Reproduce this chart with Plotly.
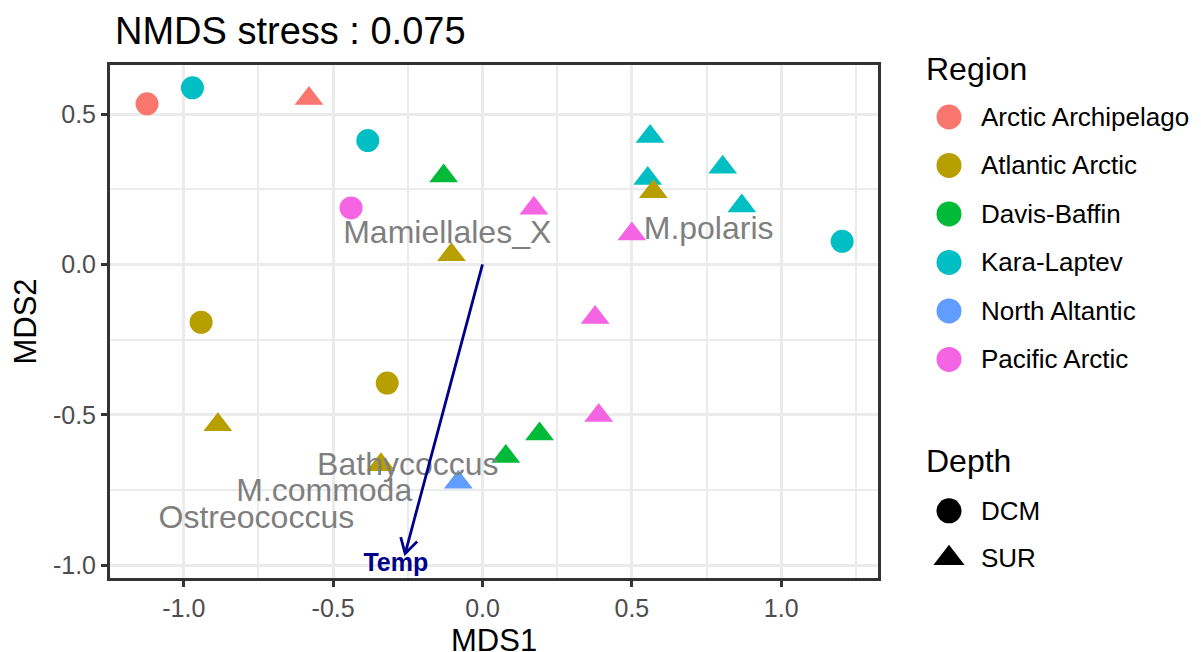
import numpy as np
import plotly.graph_objects as go

# ---------------- data ----------------
title_text = "NMDS stress : 0.075"
regions = ["Arctic Archipelago", "Atlantic Arctic", "Davis-Baffin",
           "Kara-Laptev", "North Altantic", "Pacific Arctic"]
region_colors = ["#F8766D", "#B79F00", "#00BA38", "#00BFC4", "#619CFF", "#F564E3"]
depths = ["DCM", "SUR"]
depth_symbols = ["circle", "triangle-up"]

sample_region = ["Arctic Archipelago", "Arctic Archipelago",
                 "Kara-Laptev", "Kara-Laptev", "Kara-Laptev", "Kara-Laptev",
                 "Kara-Laptev", "Kara-Laptev", "Kara-Laptev",
                 "Davis-Baffin", "Davis-Baffin", "Davis-Baffin",
                 "Pacific Arctic", "Pacific Arctic", "Pacific Arctic",
                 "Pacific Arctic", "Pacific Arctic",
                 "Atlantic Arctic", "Atlantic Arctic", "Atlantic Arctic",
                 "Atlantic Arctic", "Atlantic Arctic", "Atlantic Arctic",
                 "North Altantic"]
sample_depth = ["DCM", "SUR",
                "DCM", "DCM", "SUR", "SUR", "SUR", "SUR", "DCM",
                "SUR", "SUR", "SUR",
                "DCM", "SUR", "SUR", "SUR", "SUR",
                "SUR", "DCM", "DCM", "SUR", "SUR", "SUR",
                "SUR"]
mds1 = [-1.123, -0.581,
        -0.971, -0.384, 0.561, 0.553, 0.804, 0.868, 1.204,
        -0.130, 0.078, 0.191,
        -0.440, 0.172, 0.500, 0.377, 0.389,
        -0.104, -0.942, -0.319, -0.886, -0.340, 0.572,
        -0.081]
mds2 = [0.534, 0.552,
        0.587, 0.412, 0.425, 0.286, 0.323, 0.194, 0.077,
        0.294, -0.638, -0.563,
        0.188, 0.187, 0.101, -0.176, -0.502,
        0.032, -0.192, -0.394, -0.533, -0.666, 0.242,
        -0.724]

species = ["Mamiellales_X", "M.polaris", "Bathycoccus", "M.commoda", "Ostreococcus"]
species_x = [-0.118, 0.757, -0.250, -0.530, -0.757]
species_y = [0.097, 0.110, -0.674, -0.761, -0.850]

env_name = "Temp"
env_vec = [-0.259, -0.961]
env_label_pos = [-0.290, -0.997]

x_tickvals = [-1.0, -0.5, 0.0, 0.5, 1.0]
x_ticktext = ["-1.0", "-0.5", "0.0", "0.5", "1.0"]
y_tickvals = [-1.0, -0.5, 0.0, 0.5]
y_ticktext = ["-1.0", "-0.5", "0.0", "0.5"]
x_title = "MDS1"
y_title = "MDS2"

# ---------------- layout constants ----------------
OFF = 8  # page body margin of the html page
W, H = 1201 - OFF, 652 - OFF
ML = 110 - OFF
MT = 64.5 - OFF
PLOT_BOTTOM = 577.7 - OFF
MB = H - PLOT_BOTTOM
PLOT_RIGHT = 877.7 - OFF
paper_w = W - ML
paper_h = H - MT - MB
x_range = [-1.247, 1.323]
y_range = [-1.042, 0.663]
x_dom_end = (PLOT_RIGHT - ML) / paper_w
px_x = (PLOT_RIGHT - ML) / (x_range[1] - x_range[0])
px_y = paper_h / (y_range[1] - y_range[0])

FONT = "Liberation Sans, Arial, sans-serif"
color_of = dict(zip(regions, region_colors))
symbol_of = dict(zip(depths, depth_symbols))
size_of = {"DCM": 23, "SUR": 25}

fig = go.Figure()

# sample points
fig.add_trace(go.Scatter(
    x=mds1, y=mds2, mode="markers", showlegend=False,
    marker=dict(color=[color_of[r] for r in sample_region],
                symbol=[symbol_of[d] for d in sample_depth],
                size=[size_of[d] for d in sample_depth],
                opacity=1, line=dict(width=0)),
    hovertext=[f"{r} ({d})" for r, d in zip(sample_region, sample_depth)],
    hoverinfo="text+x+y"))

# species labels
fig.add_trace(go.Scatter(
    x=species_x, y=species_y, mode="text", text=species, showlegend=False,
    textposition="middle center",
    textfont=dict(family=FONT, size=32, color="#7F7F7F")))

# environmental arrow (head derived from the vector)
tx, ty = env_vec
ang = np.arctan2(ty * px_y, tx * px_x)
head_len = 17
arms = []
for s in (+1, -1):
    a = ang + np.pi + s * np.pi / 6
    arms.append((tx + head_len * np.cos(a) / px_x, ty + head_len * np.sin(a) / px_y))
fig.add_trace(go.Scatter(
    x=[0, tx, None, arms[0][0], tx, arms[1][0]],
    y=[0, ty, None, arms[0][1], ty, arms[1][1]],
    mode="lines", line=dict(color="#00008B", width=2.8), showlegend=False,
    hoverinfo="skip"))
fig.add_trace(go.Scatter(
    x=[env_label_pos[0]], y=[env_label_pos[1]], mode="text", text=[f"<b>{env_name}</b>"],
    textposition="middle center", showlegend=False, cliponaxis=False,
    textfont=dict(family=FONT, size=25, color="#00008B")))

# ---------------- manual legend (separate axes, pixel units) ----------------
LEG_X0 = 900 - OFF
leg_marker_x = 949 - OFF
leg_text_x = 978.5 - OFF
region_y0, region_step = 116.5 - OFF, 48.5
region_title_y = 68 - OFF
depth_title_y = 461 - OFF
depth_y0, depth_step = 510.5 - OFF, 47.5

fig.add_trace(go.Scatter(
    x=[leg_marker_x] * len(regions),
    y=[region_y0 + i * region_step for i in range(len(regions))],
    mode="markers", xaxis="x2", yaxis="y2", showlegend=False, hoverinfo="skip",
    marker=dict(color=region_colors, symbol="circle", size=25, opacity=1, line=dict(width=0))))
fig.add_trace(go.Scatter(
    x=[leg_marker_x] * len(depths),
    y=[depth_y0 + i * depth_step for i in range(len(depths))],
    mode="markers", xaxis="x2", yaxis="y2", showlegend=False, hoverinfo="skip",
    marker=dict(color="black", symbol=depth_symbols, size=[25, 27], opacity=1,
                line=dict(width=0))))

annotations = []
annotations.append(dict(text="Region", xref="x2", yref="y2", x=LEG_X0 + 24, y=region_title_y,
                        xanchor="left", yanchor="middle", showarrow=False,
                        font=dict(family=FONT, size=32, color="black")))
annotations.append(dict(text="Depth", xref="x2", yref="y2", x=LEG_X0 + 24, y=depth_title_y,
                        xanchor="left", yanchor="middle", showarrow=False,
                        font=dict(family=FONT, size=32, color="black")))
for i, r in enumerate(regions):
    annotations.append(dict(text=r, xref="x2", yref="y2", x=leg_text_x,
                            y=region_y0 + i * region_step, xanchor="left", yanchor="middle",
                            showarrow=False, font=dict(family=FONT, size=26, color="black")))
for i, d in enumerate(depths):
    annotations.append(dict(text=d, xref="x2", yref="y2", x=leg_text_x,
                            y=depth_y0 + i * depth_step, xanchor="left", yanchor="middle",
                            showarrow=False, font=dict(family=FONT, size=26, color="black")))
# plot title
annotations.append(dict(text=title_text, xref="paper", yref="paper",
                        x=(112.5 - OFF - ML) / paper_w, y=1 + (MT - (30.5 - OFF)) / paper_h,
                        xanchor="left", yanchor="middle", showarrow=False,
                        font=dict(family=FONT, size=38, color="black")))
# x axis title (placed below the tick labels)
annotations.append(dict(text=x_title, xref="paper", yref="paper",
                        x=x_dom_end / 2, y=-((640 - OFF) - PLOT_BOTTOM) / paper_h,
                        xanchor="center", yanchor="middle", showarrow=False,
                        font=dict(family=FONT, size=31, color="black")))

axis_common = dict(
    showline=True, mirror=True, linecolor="#333333", linewidth=3,
    showgrid=True, gridcolor="#EBEBEB", gridwidth=3.2,
    zeroline=False, ticks="outside", ticklen=6, tickwidth=3, tickcolor="#333333",
    tickfont=dict(family=FONT, size=25, color="#4D4D4D"),
)

fig.update_layout(
    width=W, height=H,
    margin=dict(l=ML, r=0, t=MT, b=MB, pad=0, autoexpand=False),
    paper_bgcolor="white", plot_bgcolor="white",
    showlegend=False,
    font=dict(family=FONT),
    xaxis=dict(domain=[0, x_dom_end], range=x_range, tickvals=x_tickvals, ticktext=x_ticktext,
               minor=dict(tick0=0.25, dtick=0.5, showgrid=True, gridcolor="#EBEBEB", gridwidth=1.8,
                          ticks=""),
               **axis_common),
    yaxis=dict(domain=[0, 1], range=y_range, tickvals=y_tickvals, ticktext=y_ticktext,
               title=dict(text=y_title, font=dict(family=FONT, size=31, color="black"), standoff=10),
               minor=dict(tick0=0.25, dtick=0.5, showgrid=True, gridcolor="#EBEBEB", gridwidth=1.8,
                          ticks=""),
               **axis_common),
    xaxis2=dict(domain=[(LEG_X0 - ML) / paper_w, 1], range=[LEG_X0, W], visible=False,
                anchor="y2", fixedrange=True),
    yaxis2=dict(domain=[0, 1], range=[H - MB, MT], visible=False, anchor="x2", fixedrange=True),
    annotations=annotations,
)

fig.write_html("out.html")
